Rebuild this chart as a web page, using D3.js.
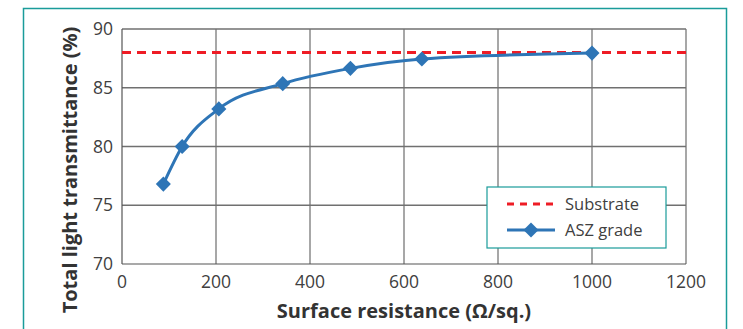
<!DOCTYPE html>
<html>
<head>
<meta charset="utf-8">
<script src="https://cdn.jsdelivr.net/npm/d3@7"></script>
<style>
  body { margin: 0; background: #fff; }
  svg { display: block; font-family: "Open Sans", "Noto Sans", sans-serif; }
</style>
</head>
<body>
<svg id="chart" width="743" height="329"></svg>
<script>
// data
const resistance = [88, 128, 206, 342, 486, 638, 1000];
const transmittance = [76.8, 80.0, 83.2, 85.35, 86.65, 87.45, 87.95];
const substrate = 88;
const xTicks = [0, 200, 400, 600, 800, 1000, 1200];
const yTicks = [70, 75, 80, 85, 90];
const seriesNames = ['Substrate', 'ASZ grade'];

const svg = d3.select('#chart');
const margin = { top: 29, right: 57, bottom: 65, left: 122 };
const width = 743 - margin.left - margin.right;
const height = 329 - margin.top - margin.bottom;

// outer frame
svg.append('rect')
  .attr('x', 23.5).attr('y', 8.5)
  .attr('width', 703).attr('height', 340)
  .attr('fill', 'none')
  .attr('stroke', '#1a9c9a')
  .attr('stroke-width', 1.5);

const g = svg.append('g').attr('transform', `translate(${margin.left},${margin.top})`);

const x = d3.scaleLinear().domain([0, 1200]).range([0, width]);
const y = d3.scaleLinear().domain([70, 90]).range([height, 0]);

// grid
g.selectAll('.vgrid').data(xTicks.slice(1)).enter().append('line')
  .attr('x1', d => x(d)).attr('x2', d => x(d))
  .attr('y1', 0).attr('y2', height)
  .attr('stroke', '#8a8a8a').attr('stroke-width', 1.5);
g.selectAll('.hgrid').data(yTicks.slice(1)).enter().append('line')
  .attr('x1', 0).attr('x2', width)
  .attr('y1', d => y(d)).attr('y2', d => y(d))
  .attr('stroke', '#707070').attr('stroke-width', 1.5);

// axis frame lines
g.append('line').attr('x1', 0).attr('x2', 0).attr('y1', 0).attr('y2', height)
  .attr('stroke', '#555').attr('stroke-width', 1.2);
g.append('line').attr('x1', 0).attr('x2', width).attr('y1', height).attr('y2', height)
  .attr('stroke', '#555').attr('stroke-width', 1.2);

// tick labels
g.selectAll('.xt').data(xTicks).enter().append('text')
  .attr('x', d => x(d)).attr('y', height + 24)
  .attr('text-anchor', 'middle')
  .attr('font-size', 17.5).attr('fill', '#404040')
  .text(d => d);
g.selectAll('.yt').data(yTicks).enter().append('text')
  .attr('x', -9).attr('y', d => y(d)).attr('dy', '0.35em')
  .attr('text-anchor', 'end')
  .attr('font-size', 17.5).attr('fill', '#404040')
  .text(d => d);

// axis titles
svg.append('text')
  .attr('x', margin.left + width / 2).attr('y', 318)
  .attr('text-anchor', 'middle')
  .attr('font-size', 20).attr('font-weight', 'bold').attr('fill', '#333')
  .text('Surface resistance (Ω/sq.)');
svg.append('text')
  .attr('transform', 'translate(77,170) rotate(-90)')
  .attr('text-anchor', 'middle')
  .attr('font-size', 20).attr('font-weight', 'bold').attr('fill', '#333')
  .text('Total light transmittance (%)');

// substrate line
g.append('line')
  .attr('x1', x(0)).attr('x2', x(1200))
  .attr('y1', y(substrate)).attr('y2', y(substrate))
  .attr('stroke', '#ee1c25').attr('stroke-width', 3)
  .attr('stroke-dasharray', '9,6');

// ASZ grade series
const pts = resistance.map((r, i) => [r, transmittance[i]]);
const line = d3.line().x(d => x(d[0])).y(d => y(d[1])).curve(d3.curveMonotoneX);
g.append('path').datum(pts)
  .attr('d', line)
  .attr('fill', 'none')
  .attr('stroke', '#2e75b6')
  .attr('stroke-width', 3);

const diamond = d3.symbol().type(d3.symbolDiamond2).size(145);
g.selectAll('.pt').data(pts).enter().append('path')
  .attr('transform', d => `translate(${x(d[0])},${y(d[1])})`)
  .attr('d', diamond)
  .attr('fill', '#2e75b6');

// legend
const lg = svg.append('g').attr('transform', 'translate(487,187)');
lg.append('rect')
  .attr('width', 179).attr('height', 61)
  .attr('fill', '#fff')
  .attr('stroke', '#1a9c9a').attr('stroke-width', 1.2);
lg.append('line').attr('x1', 20).attr('x2', 68).attr('y1', 17).attr('y2', 17)
  .attr('stroke', '#ee1c25').attr('stroke-width', 3).attr('stroke-dasharray', '7,6');
lg.append('line').attr('x1', 20).attr('x2', 68).attr('y1', 43).attr('y2', 43)
  .attr('stroke', '#2e75b6').attr('stroke-width', 3);
lg.append('path')
  .attr('transform', 'translate(44,43)')
  .attr('d', diamond)
  .attr('fill', '#2e75b6');
lg.selectAll('.lt').data(seriesNames).enter().append('text')
  .attr('x', 78).attr('y', (d, i) => 17 + i * 26).attr('dy', '0.35em')
  .attr('font-size', 16.5).attr('fill', '#404040')
  .text(d => d);
</script>
</body>
</html>
